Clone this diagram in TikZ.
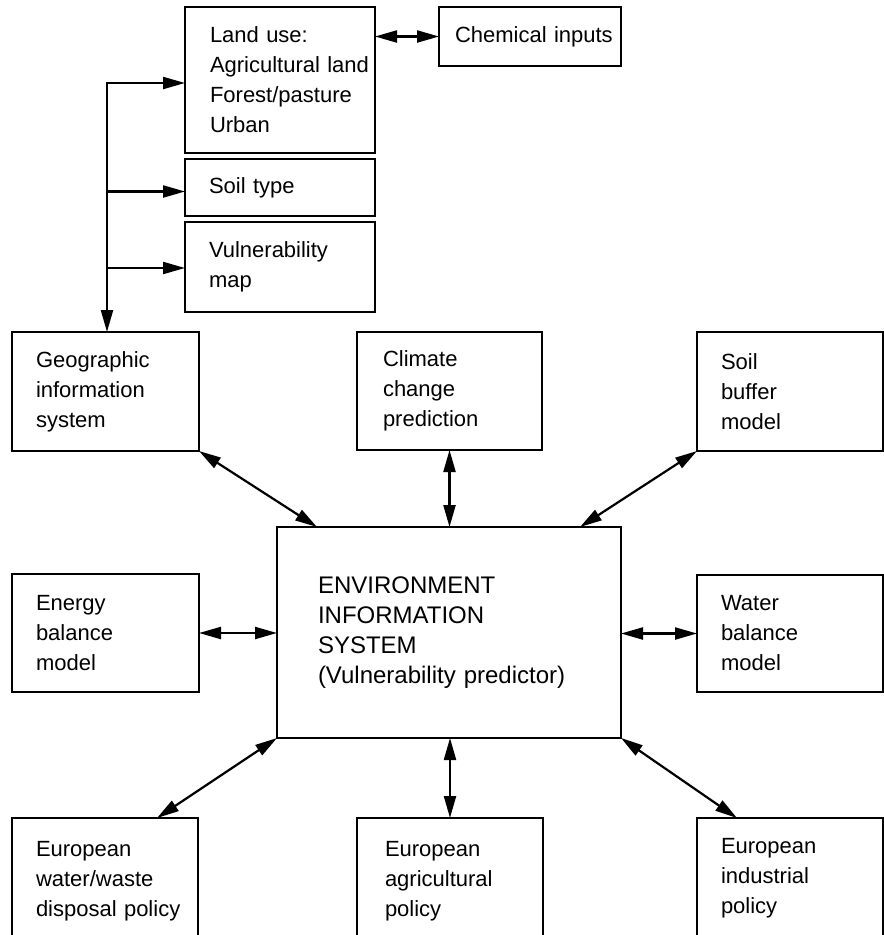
\documentclass[tikz,border=0pt]{standalone}
\usepackage{fontspec}
\setmainfont{Liberation Sans}
\usetikzlibrary{arrows.meta,calc}
\begin{document}
\begin{tikzpicture}[x=1pt,y=-1pt,
  box/.style={draw, line width=1.6pt, inner xsep=24pt, inner ysep=0pt, outer sep=0pt,
    align=left, anchor=center, font=\fontsize{22}{30}\selectfont},
  conn/.style={line width=2.2pt, {Triangle[length=22pt,width=12pt]}-{Triangle[length=22pt,width=12pt]}},
  oneway/.style={line width=2.2pt, -{Triangle[length=22pt,width=12pt]}}]
\useasboundingbox (0,0) rectangle (884,935);
\clip (0,0) rectangle (884,935);
\fill[white] (0,0) rectangle (884,935);

% top column
\node[box, text width=140pt, inner xsep=25pt, minimum height=146pt] (land) at (280,80)
  {Land use:\\\mbox{Agricultural land}\\Forest/pasture\\Urban};
\node[box, text width=150pt, inner xsep=16pt, minimum height=59pt] (chem) at (530,36.5)
  {\mbox{Chemical inputs}};
\node[box, text width=142pt, minimum height=57pt] (soil) at (280,187.5) {Soil type};
\node[box, text width=142pt, minimum height=90pt] (vuln) at (280,267) {Vulnerability\\map};

% second row
\node[box, text width=139pt, minimum height=119pt] (geo) at (105.5,391.5)
  {Geographic\\information\\system};
\node[box, text width=133pt, inner xsep=26pt, minimum height=118pt] (clim) at (449.5,391)
  {Climate\\change\\prediction};
\node[box, text width=138pt, minimum height=119pt] (sbuf) at (790,391.5)
  {Soil\\buffer\\model};

% middle row
\node[box, text width=262pt, inner xsep=41pt, minimum height=211pt,
  font=\fontsize{24}{30}\selectfont] (env) at (449,632.5)
  {ENVIRONMENT\\INFORMATION\\SYSTEM\\\mbox{(Vulnerability predictor)}};
\node[box, text width=139pt, minimum height=118pt] (energy) at (105.5,633)
  {Energy\\balance\\model};
\node[box, text width=138pt, minimum height=117pt] (water) at (790,633.5)
  {Water\\balance\\model};

% bottom row
\node[box, text width=138pt, minimum height=126pt] (bl) at (105,881)
  {European\\water/waste\\\mbox{disposal policy}};
\node[box, text width=130pt, inner xsep=28pt, minimum height=126pt] (bm) at (450,881)
  {European\\agricultural\\policy};
\node[box, text width=138pt, minimum height=120pt] (br) at (790,878)
  {European\\industrial\\policy};

% connectors, top part
\draw[conn] (land.east |- chem.west) -- (chem.west);
\coordinate (gtop) at (107,83);
\draw[conn] (gtop -| land.west) -- (gtop) -- (gtop |- geo.north);
\draw[oneway] ($(gtop |- soil.west)+(0,4)$) -- ($(soil.west)+(0,4)$);
\draw[oneway] ($(gtop |- vuln.west)+(0,1)$) -- ($(vuln.west)+(0,1)$);

% connectors around the centre
\draw[conn] (geo.south east) -- ($(env.north west)+(40,0)$);
\draw[conn] (clim.south) -- (clim.south |- env.north);
\draw[conn] (sbuf.south west) -- ($(env.north east)+(-41,0)$);
\draw[conn] (energy.east) -- (energy.east -| env.west);
\draw[conn] (water.west) -- (water.west -| env.east);
\draw[conn] (env.south west) -- ($(bl.north east)+(-41,0)$);
\draw[conn] (env.south -| bm.north) -- (bm.north);
\draw[conn] (env.south east) -- ($(br.north west)+(40,0)$);
\end{tikzpicture}
\end{document}
